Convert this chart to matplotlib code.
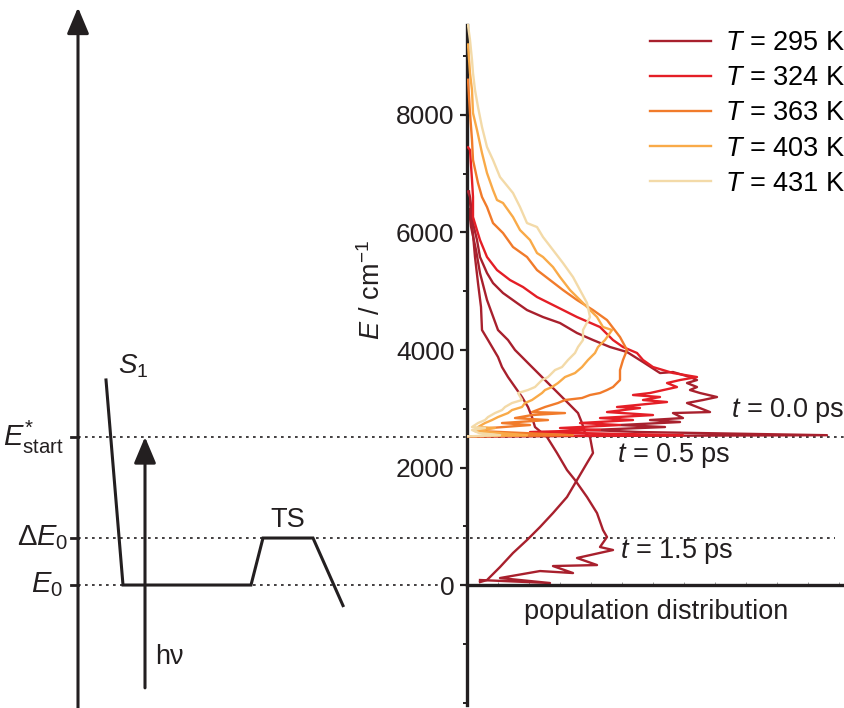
import matplotlib
matplotlib.use("Agg")
import matplotlib.pyplot as plt
from matplotlib.ticker import MultipleLocator

plt.rcParams['font.family'] = ['Liberation Sans', 'DejaVu Sans']
plt.rcParams['mathtext.fontset'] = 'custom'
plt.rcParams['mathtext.rm'] = 'Liberation Sans'
plt.rcParams['mathtext.it'] = 'Liberation Sans:italic'
plt.rcParams['mathtext.default'] = 'regular'

INK = '#231f20'
FS = 19.5

# energy levels [cm-1]
E_START = 2520
DELTA_E0 = 800
E_ZERO = 0

# population distributions (population in a.u., energy in cm-1)
temps = [295, 324, 363, 403, 431]
colors = ['#a8202d', '#e41e26', '#f17b2b', '#f9aa48', '#f3daa8']

pop_295 = [1, 3, 6, 10, 13, 20, 26, 36, 50, 60, 76, 93, 110, 126, 143, 160, 176, 193, 206,
           223, 230, 220, 230, 223, 233, 250, 236, 220, 243, 206, 216, 183, 213, 153, 198,
           123, 173, 360, 0]
E_295 = [6700, 6604, 6161, 5872, 5583, 5310, 5140, 4970, 4800, 4680, 4561, 4459, 4289, 4170,
         4051, 3966, 3795, 3608, 3625, 3540, 3489, 3438, 3370, 3319, 3268, 3200, 3149, 3098,
         2944, 2927, 2842, 2808, 2774, 2723, 2689, 2638, 2604, 2550, 2530]

pop_324 = [1, 3, 5, 6, 6, 13, 20, 30, 43, 56, 70, 90, 110, 133, 146, 156, 170, 176, 186,
           196, 206, 230, 213, 200, 210, 183, 166, 193, 176, 200, 170, 150, 173, 140, 186,
           133, 166, 113, 153, 93, 133, 63, 216, 0]
E_324 = [7450, 7404, 6893, 6604, 6263, 5872, 5583, 5361, 5191, 5072, 4902, 4732, 4561, 4391,
         4170, 4051, 3949, 3830, 3710, 3659, 3608, 3540, 3489, 3438, 3370, 3268, 3234, 3200,
         3149, 3115, 3064, 3030, 3013, 2944, 2893, 2842, 2808, 2757, 2723, 2672, 2638, 2604,
         2550, 2530]

pop_363 = [1, 3, 5, 6, 11, 15, 20, 26, 36, 46, 60, 70, 83, 96, 110, 126, 140, 153, 160,
           156, 153, 153, 146, 140, 133, 123, 115, 98, 91, 78, 65, 98, 65, 48, 81, 35, 63,
           23, 13, 106, 0]
E_363 = [8600, 8033, 7574, 7234, 6842, 6604, 6434, 6161, 5991, 5753, 5583, 5361, 5191, 5021,
         4851, 4680, 4510, 4221, 4000, 3830, 3659, 3489, 3370, 3319, 3268, 3234, 3183, 3149,
         3098, 3030, 2944, 2927, 2893, 2842, 2808, 2757, 2723, 2672, 2620, 2550, 2530]

pop_403 = [1, 3, 5, 6, 10, 15, 20, 26, 30, 36, 46, 53, 63, 70, 76, 86, 93, 103, 116, 130,
           136, 145, 138, 131, 128, 121, 115, 108, 98, 91, 85, 78, 75, 65, 58, 55, 45, 41,
           31, 25, 18, 11, 28, 8, 60, 0]
E_403 = [9200, 8714, 8425, 8033, 7744, 7353, 7012, 6723, 6553, 6502, 6263, 6042, 5872, 5651,
         5583, 5412, 5242, 5021, 4800, 4561, 4391, 4340, 4170, 4051, 3949, 3830, 3710, 3608,
         3540, 3438, 3370, 3319, 3268, 3149, 3098, 3030, 2978, 2927, 2859, 2808, 2757, 2689,
         2672, 2620, 2550, 2530]

pop_431 = [1, 3, 5, 6, 8, 11, 15, 20, 26, 33, 46, 53, 60, 70, 76, 86, 96, 106, 113, 120,
           123, 116, 116, 111, 108, 101, 95, 88, 81, 75, 68, 61, 51, 55, 45, 38, 35, 28, 21,
           18, 11, 5, 18, 5, 12, 33, 0]
E_431 = [9530, 9276, 8936, 8714, 8425, 8136, 7795, 7455, 7234, 6944, 6672, 6434, 6161, 6093,
         5923, 5702, 5480, 5242, 5021, 4800, 4561, 4340, 4170, 4051, 3949, 3830, 3710, 3659,
         3540, 3489, 3370, 3319, 3268, 3149, 3098, 3030, 2978, 2927, 2859, 2808, 2757, 2689,
         2672, 2638, 2587, 2550, 2530]

pop_t05 = [2, 4, 9, 13, 20, 31, 41, 48, 55, 61, 68, 75, 81, 88, 95, 105, 111, 115, 118,
           123, 126, 120, 110, 100, 86, 73, 60, 46, 33, 20, 13]
E_t05 = [6400, 6100, 5702, 5310, 4851, 4340, 4170, 4000, 3881, 3778, 3659, 3540, 3438, 3319,
         3200, 3030, 2927, 2757, 2587, 2519, 2247, 2076, 1787, 1498, 1225, 987, 766, 545, 306,
         85, 50]

pop_t15 = [2, 5, 8, 11, 14, 15, 21, 31, 35, 41, 48, 55, 61, 65, 68, 80, 90, 100, 108, 120,
           130, 136, 140, 133, 146, 110, 130, 86, 106, 73, 33, 83, 13]
E_t15 = [6700, 6161, 5583, 5140, 4732, 4340, 4170, 3881, 3710, 3540, 3370, 3200, 3030, 2859,
         2689, 2519, 2247, 1957, 1787, 1498, 1225, 936, 817, 647, 596, 460, 340, 323, 204, 238,
         119, 34, 85]

series = [(pop_295, E_295), (pop_324, E_324), (pop_363, E_363), (pop_403, E_403), (pop_431, E_431)]

# schematic potential (x in diagram units, energy in cm-1)
s1_x = [106, 123, 251, 263, 313, 343]
s1_E = [3490, E_ZERO, E_ZERO, DELTA_E0, DELTA_E0, -350]
AXIS_X = 78
HV_X = 145
HV_BOTTOM = -1750

YLIM = (-2093, 9957)

fig = plt.figure(figsize=(8.45, 7.08), dpi=100)
axl = fig.add_axes([0, 0, 467 / 845, 1])
ax = fig.add_axes([467 / 845, 0, 378 / 845, 1])
for a in (axl, ax):
    a.set_ylim(*YLIM)
    a.patch.set_alpha(0)
axl.set_xlim(0, 467)
axl.axis('off')
ax.set_xlim(0, 378)

# ── left: schematic ───────────────────────────────────────────
arrow_kw = dict(arrowstyle='-|>,head_length=1.0,head_width=0.42',
                mutation_scale=16, lw=2.2, color=INK, shrinkA=0, shrinkB=0)
axl.annotate('', xy=(AXIS_X, 9830), xytext=(AXIS_X, YLIM[0]),
             arrowprops=arrow_kw, annotation_clip=False)
axl.annotate('', xy=(HV_X, E_START), xytext=(HV_X, HV_BOTTOM),
             arrowprops=arrow_kw, annotation_clip=False)
axl.plot(s1_x, s1_E, color=INK, lw=2.2, solid_joinstyle='miter', zorder=3)

for lev, xend in [(E_START, 845), (DELTA_E0, 835), (E_ZERO, 438)]:
    axl.plot([AXIS_X, xend], [lev, lev], color=INK, lw=1.2, ls=(0, (1.6, 2.6)),
             clip_on=False, zorder=1)
    axl.plot([AXIS_X - 7, AXIS_X], [lev, lev], color=INK, lw=2.0, zorder=3)

axl.text(64, E_START, r'$\mathit{E}^{*}_{\mathrm{start}}$', ha='right', va='center',
         fontsize=FS + 1.5, color=INK)
axl.text(68, DELTA_E0, r'$\Delta\mathit{E}_{0}$', ha='right', va='center',
         fontsize=FS + 1.5, color=INK)
axl.text(63, E_ZERO, r'$\mathit{E}_{0}$', ha='right', va='center', fontsize=FS + 1.5, color=INK)
axl.text(118, 3730, r'$\mathit{S}_{1}$', ha='left', va='center', fontsize=FS + 0.5, color=INK)
axl.text(288, 1100, 'TS', ha='center', va='center', fontsize=FS, color=INK)
axl.text(155, -1220, 'h\u03bd', ha='left', va='center', fontsize=FS, color=INK)

# ── right: population distributions ──────────────────────────
handles = []
for (p, e), T, c in zip(series, temps, colors):
    h, = ax.plot(p, e, color=c, lw=1.7, label=rf'$\mathit{{T}}$ = {T} K', zorder=3)
    handles.append(h)
ax.plot(pop_t05, E_t05, color=colors[0], lw=1.7, zorder=2)
ax.plot(pop_t15, E_t15, color=colors[0], lw=1.7, zorder=2)

for sp in ('top', 'right'):
    ax.spines[sp].set_visible(False)
ax.spines['left'].set_linewidth(2.4)
ax.spines['left'].set_bounds(-2042, 9531)
ax.spines['left'].set_color(INK)
ax.spines['bottom'].set_position(('data', 0))
ax.spines['bottom'].set_linewidth(2.4)
ax.spines['bottom'].set_color(INK)

ax.set_yticks([0, 2000, 4000, 6000, 8000])
ax.yaxis.set_minor_locator(MultipleLocator(1000))
ax.tick_params(axis='y', which='major', length=5, width=1.6, color=INK,
               labelsize=19, labelcolor=INK, pad=4)
ax.tick_params(axis='y', which='minor', length=3, width=1.4, color=INK)
ax.set_xticks([])
ax.xaxis.set_minor_locator(MultipleLocator(31))
ax.tick_params(axis='x', which='minor', direction='in', length=2, width=0.6, color='#888888')

ax.set_ylabel(r'$\mathit{E}$ / cm$^{-1}$', fontsize=FS, color=INK)
ax.yaxis.set_label_coords(-0.215, 0.59)

ax.text(264, 2978, r'$\mathit{t}$ = 0.0 ps', ha='left', va='center', fontsize=FS, color=INK)
ax.text(150, 2213, r'$\mathit{t}$ = 0.5 ps', ha='left', va='center', fontsize=FS, color=INK)
ax.text(153, 579, r'$\mathit{t}$ = 1.5 ps', ha='left', va='center', fontsize=FS, color=INK)
ax.text(189, -460, 'population distribution', ha='center', va='center', fontsize=FS, color=INK)

ax.legend(handles=handles, loc='upper right', bbox_to_anchor=(1.0, 1 - 30 / 708),
          bbox_transform=fig.transFigure, frameon=False, fontsize=FS, handlelength=2.25,
          handletextpad=0.5, labelspacing=0.34, borderaxespad=0, borderpad=0)

fig.savefig('out.png', dpi=100)
